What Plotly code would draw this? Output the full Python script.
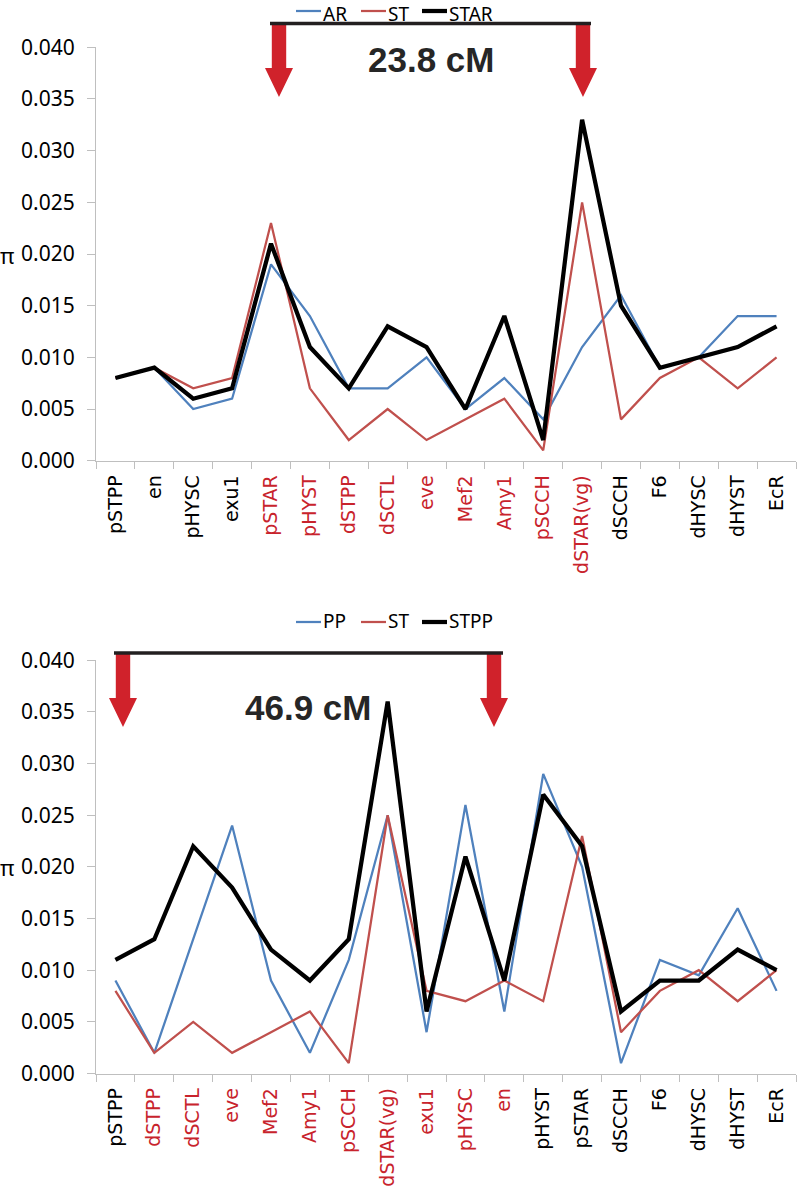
import plotly.graph_objects as go

# ---------------- data ----------------
top_categories = ["pSTPP", "en", "pHYSC", "exu1", "pSTAR", "pHYST", "dSTPP", "dSCTL", "eve",
                  "Mef2", "Amy1", "pSCCH", "dSTAR(vg)", "dSCCH", "F6", "dHYSC", "dHYST", "EcR"]
top_highlight = ["pSTAR", "pHYST", "dSTPP", "dSCTL", "eve", "Mef2", "Amy1", "pSCCH", "dSTAR(vg)"]
ar = [0.008, 0.009, 0.005, 0.006, 0.019, 0.014, 0.007, 0.007, 0.010,
      0.005, 0.008, 0.004, 0.011, 0.016, 0.009, 0.010, 0.014, 0.014]
st_top = [0.008, 0.009, 0.007, 0.008, 0.023, 0.007, 0.002, 0.005, 0.002,
          0.004, 0.006, 0.001, 0.025, 0.004, 0.008, 0.010, 0.007, 0.010]
star = [0.008, 0.009, 0.006, 0.007, 0.021, 0.011, 0.007, 0.013, 0.011,
        0.005, 0.014, 0.002, 0.033, 0.015, 0.009, 0.010, 0.011, 0.013]

bottom_categories = ["pSTPP", "dSTPP", "dSCTL", "eve", "Mef2", "Amy1", "pSCCH", "dSTAR(vg)", "exu1",
                     "pHYSC", "en", "pHYST", "pSTAR", "dSCCH", "F6", "dHYSC", "dHYST", "EcR"]
bottom_highlight = ["dSTPP", "dSCTL", "eve", "Mef2", "Amy1", "pSCCH", "dSTAR(vg)", "exu1", "pHYSC", "en"]
pp = [0.009, 0.002, 0.013, 0.024, 0.009, 0.002, 0.011, 0.025, 0.004,
      0.026, 0.006, 0.029, 0.020, 0.001, 0.011, 0.0095, 0.016, 0.008]
st_bottom = [0.008, 0.002, 0.005, 0.002, 0.004, 0.006, 0.001, 0.025, 0.008,
             0.007, 0.009, 0.007, 0.023, 0.004, 0.008, 0.010, 0.007, 0.010]
stpp = [0.011, 0.013, 0.022, 0.018, 0.012, 0.009, 0.013, 0.036, 0.006,
        0.021, 0.009, 0.027, 0.022, 0.006, 0.009, 0.009, 0.012, 0.010]

y_ticks = [0.000, 0.005, 0.010, 0.015, 0.020, 0.025, 0.030, 0.035, 0.040]

# ---------------- styling ----------------
W, H = 797, 1187
BLUE, RED, BLACK = "#4F81BD", "#C0504D", "#000000"
LABEL_RED = "#C8232C"
ARROW_RED = "#D0222B"
AXIS_GRAY = "#BFBFBF"
THIN, THICK = 2.25, 4.25


def px(x):
    return x / W


def py(y):
    return 1 - y / H


fig = go.Figure()

top_series = [("AR", ar, BLUE, THIN), ("ST", st_top, RED, THIN), ("STAR", star, BLACK, THICK)]
bottom_series = [("PP", pp, BLUE, THIN), ("ST", st_bottom, RED, THIN), ("STPP", stpp, BLACK, THICK)]

for name, vals, col, w in top_series:
    fig.add_trace(go.Scatter(x=top_categories, y=vals, name=name, mode="lines",
                             line=dict(color=col, width=w), xaxis="x", yaxis="y"))
for name, vals, col, w in bottom_series:
    fig.add_trace(go.Scatter(x=bottom_categories, y=vals, name=name, mode="lines",
                             line=dict(color=col, width=w), xaxis="x2", yaxis="y2"))


def tick_text(cats, highlight):
    return [f'<span style="color:{LABEL_RED if c in highlight else "#000000"}">{c}</span>' for c in cats]


x_common = dict(
    type="category", domain=[px(96), px(796)], range=[-0.5, 17.5], automargin=False,
    showline=True, linecolor=AXIS_GRAY, linewidth=1,
    ticks="outside", tickson="boundaries", ticklen=7, tickcolor=AXIS_GRAY, tickwidth=1,
    tickangle=-90, tickfont=dict(family="DejaVu Sans", size=19, color="#000000"),
    ticklabelstandoff=6,
    showgrid=False, zeroline=False, fixedrange=True,
)
y_common = dict(
    range=[0, 0.040], tickvals=y_ticks, tickformat=".3f", automargin=False,
    showline=True, linecolor=AXIS_GRAY, linewidth=1,
    ticks="outside", ticklen=8, tickcolor=AXIS_GRAY, tickwidth=1,
    tickfont=dict(family="Noto Sans", size=21, color="#000000"),
    ticklabelstandoff=8,
    showgrid=False, zeroline=False,
)

fig.update_layout(
    width=W, height=H, margin=dict(l=0, r=0, t=0, b=0, autoexpand=False),
    paper_bgcolor="white", plot_bgcolor="white",
    xaxis=dict(x_common, anchor="y", tickvals=top_categories,
               ticktext=tick_text(top_categories, top_highlight)),
    yaxis=dict(y_common, anchor="x", domain=[py(460.7), py(47.3)]),
    xaxis2=dict(x_common, anchor="y2", tickvals=bottom_categories,
                ticktext=tick_text(bottom_categories, bottom_highlight)),
    yaxis2=dict(y_common, anchor="x2", domain=[py(1073.5), py(660.3)]),
    showlegend=False,
)


def arrow_path(cx, y0, yh, ytip, shaft_hw=7.2, head_hw=14):
    pts = [(cx - shaft_hw, y0), (cx + shaft_hw, y0), (cx + shaft_hw, yh), (cx + head_hw, yh),
           (cx, ytip), (cx - head_hw, yh), (cx - shaft_hw, yh)]
    return "M " + " L ".join(f"{px(x):.5f},{py(y):.5f}" for x, y in pts) + " Z"


shapes = []
annotations = []

# brackets with arrows
shapes.append(dict(type="path", xref="paper", yref="paper", path=arrow_path(279, 24, 68, 97),
                   fillcolor=ARROW_RED, line=dict(width=0)))
shapes.append(dict(type="path", xref="paper", yref="paper", path=arrow_path(583, 24, 68, 97),
                   fillcolor=ARROW_RED, line=dict(width=0)))
shapes.append(dict(type="line", xref="paper", yref="paper", x0=px(270), x1=px(591),
                   y0=py(23.5), y1=py(23.5), line=dict(color="#231F20", width=3.5)))
shapes.append(dict(type="path", xref="paper", yref="paper", path=arrow_path(123, 654, 698, 727),
                   fillcolor=ARROW_RED, line=dict(width=0)))
shapes.append(dict(type="path", xref="paper", yref="paper", path=arrow_path(494, 654, 698, 727),
                   fillcolor=ARROW_RED, line=dict(width=0)))
shapes.append(dict(type="line", xref="paper", yref="paper", x0=px(114), x1=px(503),
                   y0=py(653), y1=py(653), line=dict(color="#231F20", width=3.5)))

# legends (drawn as keys + labels)
legend_x = [(296, 322), (361, 387), (422, 448)]


def add_legend(series, y_line, text_y, text_anchor):
    for (name, _, col, w), (lx, tx) in zip(series, legend_x):
        shapes.append(dict(type="line", xref="paper", yref="paper", x0=px(lx), x1=px(lx + 25),
                           y0=py(y_line), y1=py(y_line), line=dict(color=col, width=w)))
        annotations.append(dict(text=name, x=px(tx), y=text_y, xref="paper", yref="paper",
                                showarrow=False, xanchor="left", yanchor=text_anchor, borderpad=0,
                                font=dict(family="Noto Sans", size=19, color="#000000")))


add_legend(top_series, 11, 1.0, "top")
add_legend(bottom_series, 622, py(621), "middle")

annotations += [
    dict(text="<b>23.8 cM</b>", x=px(431), y=py(59), xref="paper", yref="paper",
         showarrow=False, xanchor="center", yanchor="middle",
         font=dict(family="Liberation Sans", size=35, color="#262626")),
    dict(text="<b>46.9 cM</b>", x=px(308), y=py(707), xref="paper", yref="paper",
         showarrow=False, xanchor="center", yanchor="middle",
         font=dict(family="Liberation Sans", size=35, color="#262626")),
    dict(text="π", x=px(7), y=py(255), xref="paper", yref="paper",
         showarrow=False, xanchor="center", yanchor="middle",
         font=dict(family="Noto Sans", size=22, color="#000000")),
    dict(text="π", x=px(7), y=py(867), xref="paper", yref="paper",
         showarrow=False, xanchor="center", yanchor="middle",
         font=dict(family="Noto Sans", size=22, color="#000000")),
]
fig.update_layout(shapes=shapes, annotations=annotations)

fig.write_html("out.html", config={"displayModeBar": False},
               post_script="document.body.style.margin='0px';")
